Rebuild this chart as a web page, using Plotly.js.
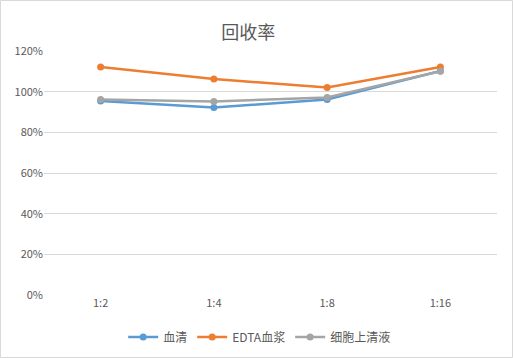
<!DOCTYPE html>
<html><head><meta charset="utf-8">
<script src="https://cdn.plot.ly/plotly-3.0.1.min.js"></script>
<style>html,body{margin:0;padding:0;background:#fff}#c{width:513px;height:358px}</style>
</head><body><div id="c"></div>
<script>
const categories = ['1:2', '1:4', '1:8', '1:16'];
const serum = [0.954, 0.922, 0.962, 1.102];
const edtaPlasma = [1.121, 1.062, 1.021, 1.121];
const supernatant = [0.962, 0.952, 0.971, 1.100];
const seriesNames = ['血清', 'EDTA血浆', '细胞上清液'];
const yTicks = [0, 0.2, 0.4, 0.6, 0.8, 1.0, 1.2];
const yTickText = ['0%', '20%', '40%', '60%', '80%', '100%', '120%'];

const colors = ['#5b9bd5', '#ed7d31', '#a5a5a5'];
const data = [serum, edtaPlasma, supernatant].map((v, i) => ({
  x: categories, y: v, name: seriesNames[i], type: 'scatter', mode: 'lines+markers',
  line: {color: colors[i], width: 2.5}, marker: {color: colors[i], size: 7}
}));
const font = "'Noto Sans CJK SC', 'Noto Sans', sans-serif";
Plotly.newPlot('c', data, {
  width: 513, height: 358,
  margin: {l: 44, r: 16, t: 51, b: 63, autoexpand: false},
  paper_bgcolor: '#fff', plot_bgcolor: '#fff',
  font: {family: font, color: '#595959', size: 10},
  title: {text: '回收率', x: 0.484, xanchor: 'center', y: 0.91, yanchor: 'middle', font: {family: font, size: 18, color: '#595959'}},
  xaxis: {type: 'category', range: [-0.5, 3.5], showgrid: false, zeroline: false, showline: false, ticks: '', tickfont: {size: 11, color: '#595959'}, fixedrange: true},
  yaxis: {range: [0, 1.2], tickvals: yTicks, ticktext: yTickText, showgrid: true, gridcolor: '#d9d9d9', gridwidth: 1, zeroline: false, showline: false, ticks: '', tickfont: {size: 11, color: '#595959'}, fixedrange: true},
  showlegend: true,
  legend: {orientation: 'h', x: 0.475, xanchor: 'center', y: -0.172, yanchor: 'middle', font: {size: 12, color: '#595959'}, itemwidth: 30, tracegroupgap: 0},
  shapes: [{type: 'rect', xref: 'paper', yref: 'paper', x0: -43.5/453, x1: 1 + 15.5/453, y0: -62.5/244, y1: 1 + 50.5/244, line: {color: '#d9d9d9', width: 1}}]
}, {displayModeBar: false, staticPlot: true});
</script></body></html>
